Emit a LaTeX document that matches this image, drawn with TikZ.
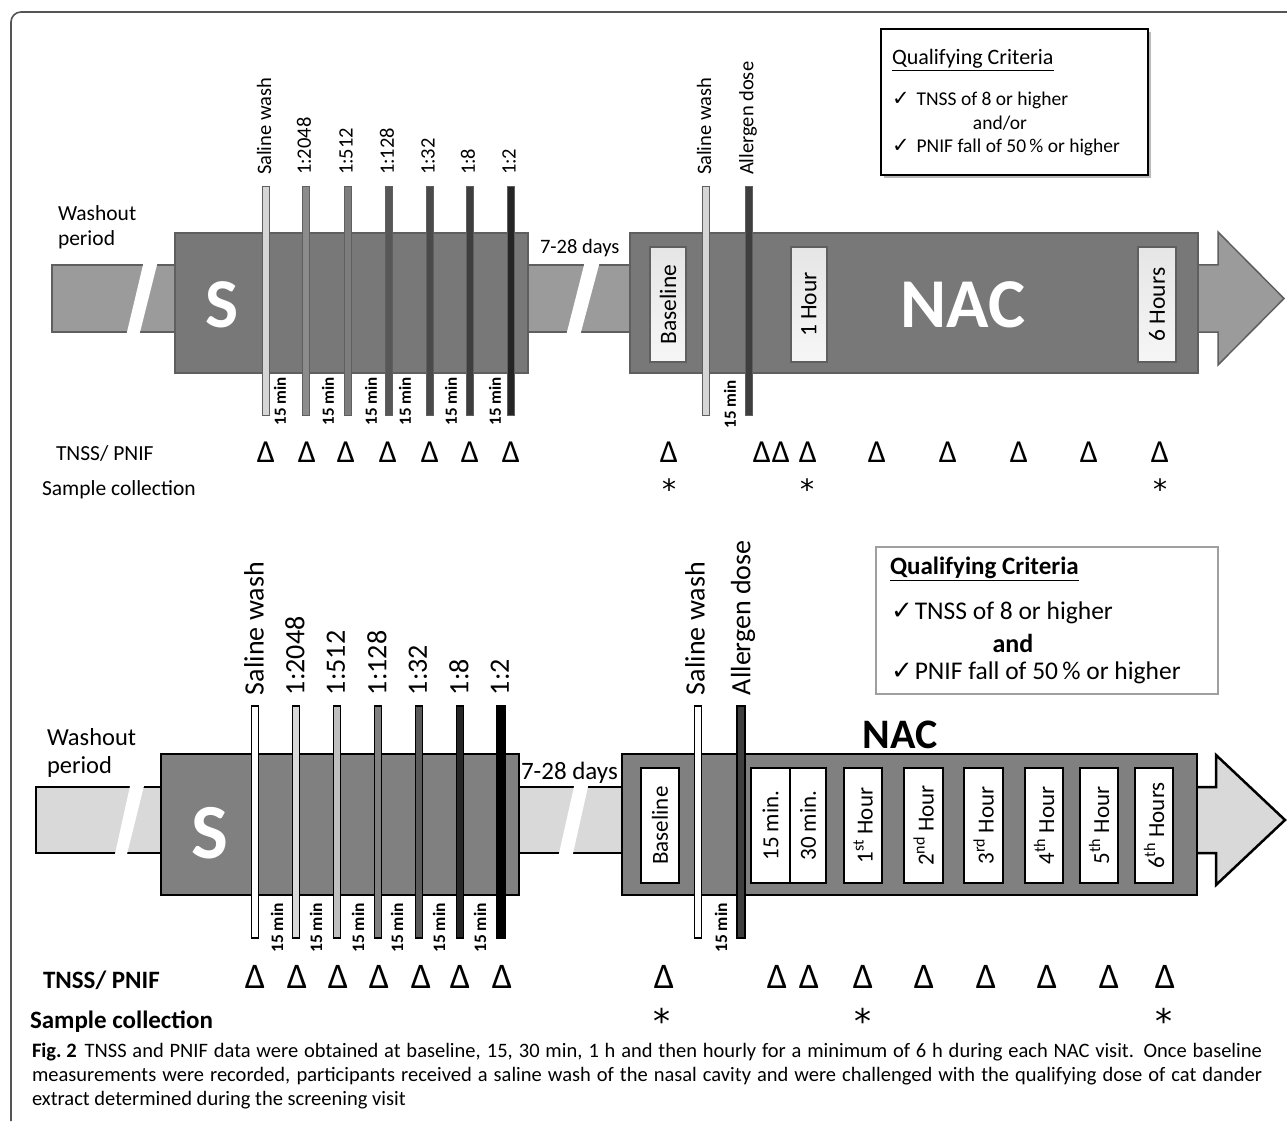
\documentclass[tikz,border=0pt]{standalone}
\usepackage{fontspec}
\setmainfont{Carlito}
\newfontfamily\dejavu{DejaVu Sans}
\newcommand\myfs[1]{\fontsize{#1}{#1}\selectfont}
\newcommand\chk{{\dejavu ✓}}
\definecolor{tbarfill}{HTML}{9B9B9B}
\definecolor{tline}{HTML}{5F5F5F}
\definecolor{tboxfill}{HTML}{787878}
\definecolor{tbA}{HTML}{D6D6D6}
\definecolor{tbB}{HTML}{8C8C8C}
\definecolor{tbC}{HTML}{7D7D7D}
\definecolor{tbD}{HTML}{575757}
\definecolor{tbE}{HTML}{4A4A4A}
\definecolor{tbF}{HTML}{3E3E3E}
\definecolor{tbG}{HTML}{252525}
\definecolor{bbarfill}{HTML}{D9D9D9}
\definecolor{bboxfill}{HTML}{808080}
\definecolor{bbA}{HTML}{FFFFFF}
\definecolor{bbB}{HTML}{D9D9D9}
\definecolor{bbC}{HTML}{BFBFBF}
\definecolor{bbD}{HTML}{808080}
\definecolor{bbE}{HTML}{595959}
\definecolor{bbF}{HTML}{262626}
\definecolor{bbG}{HTML}{000000}
\definecolor{framec}{HTML}{555555}
\tikzset{
  every node/.style={inner sep=0pt, outer sep=0pt},
  tbar/.style={fill=tbarfill, draw=tline, line width=1.5pt},
  tbox/.style={fill=tboxfill, draw=tline, line width=1.5pt},
  tvbar/.style={draw=tline, line width=0.8pt, minimum width=7pt, minimum height=229pt},
  tlab/.style={rotate=90, anchor=west, font=\myfs{20.5}},
  tmin/.style={rotate=90, font=\bfseries\myfs{17}},
  tinbox/.style={draw=tline, line width=2pt, top color=white!80!gray, bottom color=white!93!gray, minimum height=115pt},
  tinlab/.style={rotate=90, font=\myfs{23.5}},
  ttext/.style={anchor=west, font=\myfs{21.5}},
  tdelta/.style={font=\myfs{32}, anchor=base},
  tstar/.style={font=\dejavu\myfs{28}, anchor=base},
  bbar/.style={fill=bbarfill, draw=black, line width=2.5pt},
  bbox/.style={fill=bboxfill, draw=black, line width=2.5pt},
  bvbar/.style={draw=black, line width=1.2pt, minimum width=7pt, minimum height=232pt},
  blab/.style={rotate=90, anchor=west, font=\myfs{28}},
  bmin/.style={rotate=90, font=\bfseries\myfs{17.5}},
  binbox/.style={draw=black, line width=2.5pt, fill=white, minimum height=115pt},
  binlab/.style={rotate=90, font=\myfs{23}},
  btext/.style={anchor=west, font=\myfs{25}},
  bdelta/.style={font=\myfs{36}, anchor=base},
  bstar/.style={font=\dejavu\myfs{34}, anchor=base},
}
\begin{document}
\begin{tikzpicture}[x=1pt,y=-1pt]
\useasboundingbox (0,0) rectangle (1287,1123);
\fill[white] (0,0) rectangle (1287,1123);
% frame
\draw[framec, line width=1.6pt, rounded corners=10pt] (11,1121) -- (11,12) -- (1287,12);

%================ TOP PANEL =================
\path[tbar] (52,265) rectangle (175,332);
\fill[white] (143.7,262) -- (157.7,262) -- (139.3,335) -- (126.3,335) -- cycle;
\path[tbar] (528,265) rectangle (630,332);
\fill[white] (584.8,262) -- (599.8,262) -- (580.2,335) -- (566.2,335) -- cycle;
\node[tbox, anchor=north west, minimum width=353pt, minimum height=140pt] (tS) at (175,233) {};
\node[font=\bfseries\myfs{70}, text=white] (tStxt) at (222,305) {S};
\path[tbar] (1190,265) -- (1218,265) -- (1218,232) -- (1284,298.5) -- (1218,365) -- (1218,332) -- (1190,332) -- cycle;
\node[tbox, anchor=north west, minimum width=568pt, minimum height=140pt] (tN) at (630,233) {};
\node[font=\bfseries\myfs{70}, text=white] (tNtxt) at (963,305) {NAC};
% inner boxes
\node[tinbox, minimum width=36pt] (tib1) at (668,304.5) {};
\node[tinlab] at (tib1) {Baseline};
\node[tinbox, minimum width=36pt] (tib2) at (809,304.5) {};
\node[tinlab] at (tib2) {1 Hour};
\node[tinbox, minimum width=38pt] (tib3) at (1157,304.5) {};
\node[tinlab] at (tib3) {6 Hours};
% vertical bars
\foreach \n/\x/\c/\t in {1/266/tbA/Saline wash, 2/306/tbB/1:2048, 3/348/tbC/1:512, 4/389/tbD/1:128, 5/430/tbE/1:32, 6/470/tbF/1:8, 7/511/tbG/1:2}{
  \node[tvbar, fill=\c] (tv\n) at (\x,300.5) {};
  \node[tlab] (tl\n) at (\x-2,175) {\t};
}
\node[tvbar, fill=tbA] (tv8) at (706,300.5) {};
\node[tlab] (tl8) at (704,175) {Saline wash};
\node[tvbar, fill=tbF, minimum width=7.5pt] (tv9) at (749,300.5) {};
\node[tlab] (tl9) at (748,175) {Allergen dose};
\foreach \n/\x in {1/280, 2/328, 3/371, 4/405, 5/451, 6/495}{
  \node[tmin] (tm\n) at (\x,401) {15 min};
}
\node[tmin] (tm7) at (730,404) {15 min};
% texts
\node[ttext] (twash) at (58,213) {Washout};
\node[ttext] (tper) at (58,240) {period};
\node[ttext, font=\myfs{20.5}] (tdays) at (540,248) {7-28 days};
\node[ttext] (ttnss) at (56,453) {TNSS/ PNIF};
\node[ttext] (tsamp) at (42,490) {Sample collection};
\foreach \n/\x in {1/266, 2/307, 3/346, 4/388, 5/430, 6/470, 7/511, 8/669, 9/762, 10/781, 11/808, 12/877, 13/948, 14/1019, 15/1089, 16/1160}{
  \node[tdelta] (td\n) at (\x,462) {Δ};
}
\foreach \n/\x in {1/669, 2/807, 3/1160}{
  \node[tstar] (ts\n) at (\x,499.5) {*};
}
% qualifying box top
\fill[gray!55] (884,32) rectangle (1151,178);
\node[draw=black, fill=white, line width=2.5pt, anchor=north west, minimum width=267pt, minimum height=146pt] (tq) at (881,29) {};
\node[anchor=west, font=\myfs{22}] (tq1) at (892,60) {\underline{Qualifying Criteria}};
\node[anchor=west, font=\myfs{19.5}] (tq2) at (892,100) {{\myfs{21}\chk}\hspace{7pt}TNSS of 8 or higher};
\node[font=\myfs{19.5}] (tq3) at (1000,123) {and/or};
\node[anchor=west, font=\myfs{19.5}] (tq4) at (892,147) {{\myfs{21}\chk}\hspace{7pt}PNIF fall of 50\,\% or higher};

%================ BOTTOM PANEL =================
\path[bbar] (36,787) rectangle (161,853);
\fill[white] (130.7,783) -- (144.7,783) -- (126.3,857) -- (114.3,857) -- cycle;
\path[bbar] (519,787) rectangle (622,853);
\fill[white] (574.8,783) -- (588.8,783) -- (572.2,857) -- (558.2,857) -- cycle;
\node[bbox, anchor=north west, minimum width=358pt, minimum height=141pt] (bS) at (161,754) {};
\node[font=\bfseries\myfs{78}, text=white] (bStxt) at (210,833) {S};
\path[bbar] (1190,787) -- (1216,787) -- (1216,755) -- (1285,820) -- (1216,885) -- (1216,853) -- (1190,853) -- cycle;
\node[bbox, anchor=north west, minimum width=575pt, minimum height=141pt] (bN) at (622,754) {};
\node[font=\bfseries\myfs{42}] (bNtxt) at (900,735) {NAC};
% inner boxes
\foreach \n/\a/\b/\t in {1/641/679/Baseline, 2/751/790/15 min., 3/790/826/30 min., 4/844/882/1\textsuperscript{st} Hour, 5/904/943/2\textsuperscript{nd} Hour, 6/964/1003/3\textsuperscript{rd} Hour, 7/1025/1063/4\textsuperscript{th} Hour, 8/1080/1118/5\textsuperscript{th} Hour, 9/1135/1173/6\textsuperscript{th} Hours}{
  \node[binbox, minimum width=\b-\a, anchor=west] (bib\n) at (\a,825.5) {};
  \node[binlab] (bil\n) at (bib\n) {\t};
}
% vertical bars
\foreach \n/\x/\c/\t/\w in {1/255/bbA/Saline wash/7, 2/296/bbB/1:2048/7, 3/337/bbC/1:512/7, 4/378/bbD/1:128/7, 5/419/bbE/1:32/7, 6/460/bbF/1:8/7, 7/501/bbG/1:2/9}{
  \node[bvbar, fill=\c, minimum width=\w] (bv\n) at (\x,822) {};
  \node[blab] (bl\n) at (\x-1,695) {\t};
}
\node[bvbar, fill=bbA] (bv8) at (698,822) {};
\node[blab] (bl8) at (695,695) {Saline wash};
\node[bvbar, fill=bbE!70!black, minimum width=8pt] (bv9) at (741,822) {};
\node[blab] (bl9) at (743,695) {Allergen dose};
\foreach \n/\x in {1/277, 2/316, 3/358, 4/397, 5/439, 6/480, 7/721}{
  \node[bmin] (bm\n) at (\x,928) {15 min};
}
% texts
\node[btext, font=\myfs{24.5}] (bwash) at (47,737) {Washout};
\node[btext, font=\myfs{24.5}] (bper) at (47,767) {period};
\node[btext] (bdays) at (521,773) {7-28 days};
\node[btext, font=\bfseries\myfs{25}] (btnss) at (43,980) {TNSS/ PNIF};
\node[btext, font=\bfseries\myfs{25}] (bsamp) at (30,1022) {Sample collection};
\foreach \n/\x in {1/255, 2/297, 3/338, 4/379, 5/421, 6/460, 7/502, 8/664, 9/777, 10/809, 11/863, 12/924, 13/986, 14/1047, 15/1109, 16/1165}{
  \node[bdelta] (bd\n) at (\x,988) {Δ};
}
\foreach \n/\x in {1/662, 2/863, 3/1164}{
  \node[bstar] (bs\n) at (\x,1033) {*};
}
% qualifying box bottom
\node[draw=gray!75, fill=white, line width=2.5pt, anchor=north west, minimum width=342pt, minimum height=147pt] (bq) at (876,547) {};
\node[anchor=west, font=\bfseries\myfs{25}] (bq1) at (890,569) {\underline{Qualifying Criteria}};
\node[anchor=west, font=\myfs{25.5}] (bq2) at (891,613) {{\myfs{26}\chk}\hspace{2pt}TNSS of 8 or higher};
\node[font=\bfseries\myfs{26}] (bq3) at (1013,643) {and};
\node[anchor=west, font=\myfs{25.5}] (bq4) at (891,673) {{\myfs{26}\chk}\hspace{2pt}PNIF fall of 50\,\% or higher};

%================ CAPTION =================
\node[anchor=west, font=\myfs{20.5}] (cap1) at (32,1052) {\makebox[1230pt][s]{\mbox{\textbf{Fig.~2}}\hspace{8pt}TNSS and PNIF data were obtained at baseline, 15, 30 min, 1 h and then hourly for a minimum of 6 h during each NAC visit. Once baseline}};
\node[anchor=west, font=\myfs{20.5}] (cap2) at (32,1076) {\makebox[1230pt][s]{measurements were recorded, participants received a saline wash of the nasal cavity and were challenged with the qualifying dose of cat dander}};
\node[anchor=west, font=\myfs{20.5}] (cap3) at (32,1100) {extract determined during the screening visit};
\end{tikzpicture}
\end{document}
